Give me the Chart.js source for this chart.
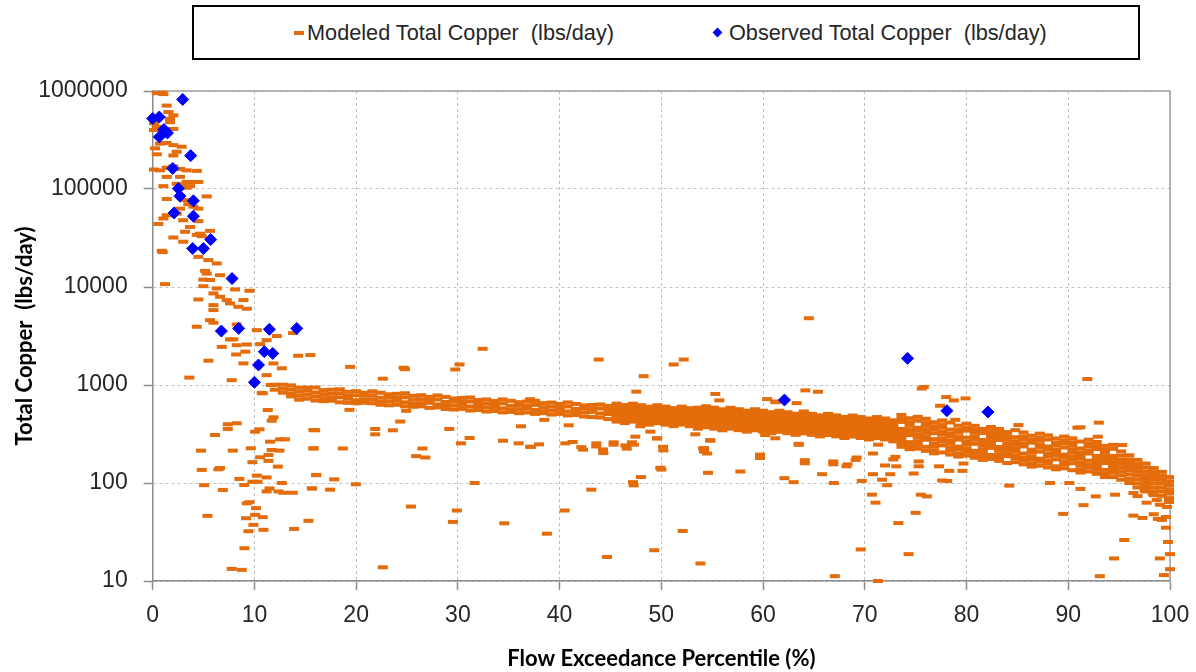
<!DOCTYPE html>
<html>
<head>
<meta charset="utf-8">
<script src="https://cdn.jsdelivr.net/npm/chart.js@4.4.1/dist/chart.umd.min.js"></script>
<style>
  html, body { margin: 0; padding: 0; background: #fff; }
  #wrap { position: relative; width: 1196px; height: 672px; }
  #chart { position: absolute; left: 0; top: 0; }
  #legend {
    position: absolute; left: 192px; top: 5px; width: 944px; height: 51px;
    border: 2px solid #000; background: #fff;
    font-family: "Liberation Sans", Arial, sans-serif; font-size: 21.7px; color: #262626;
  }
  .item { position: absolute; top: 0; line-height: 51px; white-space: nowrap; }
  .mark { position: absolute; }
  .dash { width: 10px; height: 4px; background: #E46C0A; top: 24px; }
  .diamond { width: 7px; height: 7px; background: #0000FF; transform: rotate(45deg); top: 22px; }
</style>
</head>
<body>
<div id="wrap">
  <canvas id="chart" width="1196" height="672"></canvas>
  <div id="legend">
    <span class="mark dash" style="left:100px"></span>
    <span class="item" style="left:113px">Modeled Total Copper&nbsp; (lbs/day)</span>
    <span class="mark diamond" style="left:520px"></span>
    <span class="item" style="left:535px">Observed Total Copper&nbsp; (lbs/day)</span>
  </div>
</div>
<script>
// axis ticks
const xTickValues = [0, 10, 20, 30, 40, 50, 60, 70, 80, 90, 100];
const yTickValues = [10, 100, 1000, 10000, 100000, 1000000];

// observed loads
const observedX = [0.0, 0.65, 0.65, 1.1, 1.45, 2.95, 3.73, 1.97, 2.52, 2.68, 4.0, 2.1, 4.0, 3.93, 4.98, 5.7, 7.8, 6.75, 8.45, 11.47, 14.16, 10.97, 11.8, 10.4, 10.0, 62.1, 74.2, 78.07, 82.1];
const observedY = [524000, 543000, 340000, 405000, 373000, 820000, 219000, 162000, 101000, 84500, 75700, 57000, 52800, 24700, 24700, 30500, 12200, 3550, 3780, 3700, 3780, 2190, 2100, 1600, 1065, 703, 1870, 547, 531];

// modeled loads, high flows (0-16 %)
const modeledHighFlow = [
  [0.4,950000],[1.05,930000],[0.9,960000],[1.38,710000],[1.54,610000],[1.7,520000],[2.03,565000],[0.13,470000],
  [0.13,400000],[0.4,430000],[1.7,480000],[2.03,410000],[0.72,290000],[1.38,295000],[2.03,280000],[2.85,270000],
  [0.23,260000],[0.4,226000],[2.03,220000],[2.36,240000],[0.13,158000],[0.72,155000],[1.38,165000],[2.03,170000],
  [2.69,160000],[3.34,155000],[4.33,153000],[1.38,133000],[2.69,133000],[3.34,118000],[3.84,118000],[1.05,107000],
  [2.36,113000],[2.85,109000],[3.34,103000],[4.49,118000],[3.67,107000],[5.31,84000],[3.18,77000],[1.38,79000],
  [3.5,70000],[2.69,63000],[4.0,66000],[4.49,63000],[1.38,54000],[2.36,56000],[1.05,50000],[3.0,48000],
  [4.49,47000],[0.56,44000],[3.67,41000],[3.18,36600],[4.66,35000],[5.64,37400],[2.03,32000],[3.0,29000],
  [4.33,34000],[4.82,33000],[0.89,23400],[0.98,22700],[4.49,20300],[5.47,18800],[6.3,17400],[5.15,14600],
  [5.31,13700],[6.62,13200],[4.98,11900],[5.64,11800],[1.21,10700],[4.98,10200],[6.3,9670],[8.1,9440],
  [9.51,9150],[5.97,8600],[6.62,7950],[7.28,7350],[4.49,7460],[7.6,6800],[8.92,7350],[5.97,6530],
  [8.43,6280],[9.25,6000],[5.97,5810],[5.64,4590],[5.97,4320],[8.26,4150],[4.33,3930],[7.93,2920],
  [7.6,2920],[6.79,2450],[8.26,2550],[9.25,2590],[10.23,3630],[11.2,2870],[12.2,3160],[10.56,2610],
  [8.2,2050],[9.11,2190],[5.48,1770],[8.92,1660],[11.87,1660],[12.69,1480],[11.2,1260],[3.6,1190],
  [7.77,1120],[10.72,830],[15.5,2020],[14.3,1990],[13.8,3390]
];

// modeled loads, main band: [x, y, y, ...]
const modeledBandRows = [
  [11.6,1000],[12.0,1006,895],[12.8,1007,916,834],[13.6,991,901,820,765],[14.4,939,855,778,708],
  [15.2,940,876,797,725],[16.0,943,838,763,694],[16.8,887,807,734,684],[17.6,895,814,741,691],
  [18.4,904,823,749,666],[19.2,853,776,723,658],[20.0,864,786,699,651],[20.8,834,777,707,659],
  [21.6,863,785,715,651],[22.4,834,741,675,628],[23.2,804,749,682,621],[24.0,813,740,690,628],
  [24.8,823,749,666,606],[25.6,776,707,643,599],[26.4,786,715,651,606],[27.2,757,705,658,584],
  [28.0,783,712,633,590],[28.8,756,672,611,569],[29.6,729,679,618,562],[30.4,738,672,626,570],
  [31.2,746,679,604,549],[32.0,703,640,583,556],[32.8,712,648,590,536],[33.6,687,640,597,543],
  [34.4,713,649,577,525],[35.2,690,613,558,532],[36.0,668,623,567,516],[36.8,679,617,575,524],
  [37.6,689,627,557,507],[38.4,653,594,541,516],[39.2,662,603,549,499],[40.0,641,597,557,507],
  [40.8,664,604,537,489],[41.6,641,569,518,494],[42.4,619,576,525,477],[43.2,626,569,531,471],
  [44.0,633,576,512,466],[44.8,611,555,506,449],
  [45.6,646,603,561,523,487,454,423],[46.4,624,582,542,505,470,438,409],[47.2,645,601,560,522,487,453,423],
  [48.0,622,579,540,503,469,437,407],[48.8,601,560,522,487,453,422,394],[49.6,622,580,541,504,469,437,408],
  [50.4,602,561,523,487,454,423,394],[51.2,581,541,504,470,438,408,380],[52.0,602,561,523,487,454,423,395],
  [52.8,581,541,504,470,438,408,380],
  [53.6,587,547,510,475,443,412,385,358],[54.4,607,566,528,491,458,427,398,371],[55.2,587,547,510,475,443,412,384,358],
  [56.0,565,527,491,458,426,397,371,345],[56.8,586,546,509,474,442,412,384,358],[57.6,566,527,492,458,427,398,371,346],
  [58.4,546,509,475,442,412,384,358,334],[59.2,566,528,492,458,427,398,371,345],[60.0,546,509,475,442,412,384,358,334],
  [60.8,528,492,458,427,398,371,346,322],[61.6,546,509,475,442,412,384,358,333],[62.4,527,491,458,427,398,370,345,322],
  [63.2,509,474,442,412,384,357,333,310],[64.0,526,491,457,426,397,370,345,321],[64.8,508,473,441,411,383,357,332,310],
  [65.6,490,456,425,396,369,344,321,299],[66.4,507,472,440,410,382,356,332,309],[67.2,490,456,425,396,369,344,321,299],
  [68.0,472,440,410,382,356,332,309,288],[68.8,488,455,424,395,368,343,319,298],[69.6,471,439,410,381,356,331,309,288],
  [70.4,455,424,396,369,343,320,298,278],[71.2,471,439,409,381,355,331,308,287],[72.0,455,424,395,368,343,319,298,278],
  [72.8,436,407,379,353,329,307,286,266],
  [73.6,495,451,420,356,324,302,275,256,234],[74.4,458,417,389,354,330,308,261,238,221],[75.2,474,432,366,341,311,289,264,245,224],
  [76.0,452,411,383,349,325,296,276,234,213],[76.8,417,380,354,322,280,254,237,216,201],[77.6,435,396,369,336,313,285,266,242,205],
  [78.4,414,351,320,298,271,252,230,214,195],[79.2,385,350,327,297,277,235,219,199,186],[80.0,403,366,342,290,264,246,224,208,190],
  [80.8,383,349,325,296,276,251,213,198,181],[81.6,356,324,275,256,239,217,202,184,172],[82.4,373,339,316,288,268,244,228,193,176],
  [83.2,356,324,302,275,233,217,197,184,168],[84.0,331,301,281,255,238,222,202,188,160],[84.8,346,293,267,249,227,211,192,179,163],
  [85.6,328,298,278,253,236,200,182,170,155],[86.4,304,277,258,219,204,186,173,158,147],[87.2,319,290,271,247,230,209,177,165,150],
  [88.0,306,278,236,220,200,187,170,158,144],[88.8,285,259,242,220,205,191,174,148,138],[89.6,298,271,253,230,195,182,166,154,141],
  [90.4,286,260,242,221,205,187,174,159,135],[91.2,265,225,205,191,178,162,151,138,128],[92.0,277,252,235,214,200,169,154,144,131],
  [92.8,262,239,222,189,172,160,146,136,124],[93.6,239,218,203,185,172,160,136,124,115],[94.4,245,223,189,176,160,149,136,127,115],
  [95.2,210,190,172,158,145,132,120,108],[96.0,192,174,160,146,134,122,110,100],[96.8,172,156,143,131,120,109,99,90],
  [97.6,158,144,131,120,110,100,91,82],[98.4,142,129,118,108,99,90,82,75],[99.2,130,118,108,99,90,82,74],
  [99.9,115,104,95,86,78,70,64]
];

// modeled loads, scattered away from the band
const modeledScatter = [
  [10.82,822],[11.31,556],[11.87,468],[11.7,432],[7.38,398],[8.26,407],[6.13,309],[7.38,356],[10.07,334],[10.5,353],
  [4.75,214],[7.87,214],[9.64,226],[11.54,264],[12.52,279],[13.0,279],[11.7,217],[12.46,214],[10.56,183],[11.38,193],
  [9.8,163],[11.38,168],[12.3,147],[4.82,136],[6.46,138],[6.62,142],[10.23,119],[11.2,114],[8.52,110],[9.8,103],
  [10.3,103],[9.0,95.5],[5.05,95],[12.69,100],[6.89,85],[11.2,82],[11.48,88],[12.36,82],[12.85,79.5],[13.77,79.5],
  [9.51,63.7],[9.25,62],[10.16,55.4],[5.38,46.2],[9.18,43.7],[10.07,47.3],[10.82,44.8],[13.9,34],[15.31,41.1],[9.9,37.4],
  [9.41,32.2],[10.89,33.3],[9.02,21.6],[7.77,13.3],[8.75,13.0],[15.8,347],[15.8,226],[16.07,121],[15.64,88],
  [19.41,1530],[22.62,1160],[24.66,1500],[24.8,1450],[30.16,1620],[29.74,1440],[32.43,2340],[43.84,1820],[51.21,1620],[52.2,1820],
  [48.26,1230],[47.54,855],[55.3,810],[55.7,697],[19.34,558],[24.92,545],[24.33,424],[15.97,345],[21.87,356],[21.87,314],
  [23.61,345],[29.15,356],[36.2,379],[38.5,441],[40.89,388],[47.93,379],[47.44,297],[48.92,334],[49.57,285],[53.34,314],
  [54.82,270],[15.8,225],[18.69,225],[26.52,225],[30.3,254],[31.15,288],[25.9,188],[26.8,182],[34.43,270],[35.97,254],
  [37.18,234],[37.97,248],[40.56,254],[41.28,262],[42.13,232],[43.61,254],[44.26,220],[45.31,260],[46.46,242],[47.11,260],
  [50.16,234],[54.1,225],[16.07,120],[17.84,109],[15.67,88],[17.44,85.5],[19.97,97],[31.64,100],[47.21,102],[47.28,94.6],
  [48.0,115],[43.11,85.5],[49.9,143],[54.59,127],[57.77,131],[25.38,57.5],[29.9,52.4],[29.51,40.1],[34.56,38.8],[40.49,52.4],
  [38.75,30.4],[52.1,32.4],[49.3,20.6],[44.66,17.6],[53.84,15.1],[22.62,13.8],[37.1,716],[37.1,234],
  [49.6,286],[60.2,309],[61.2,286],[63.5,251],[42.3,219],[43.6,236],[44.3,202],[45.3,246],[46.6,224],[47.3,246],
  [50.2,215],[54.2,209],[59.7,180],[64.1,159],[66.9,155],[68.2,148],[69.1,172],[70.8,200],[71.3,246],[72.8,174],
  [73.1,148],[50.0,137],[61.35,679],[54.5,200],
  [64.5,4800],[75.8,955],[75.6,920],[78.0,753],[78.75,696],[79.9,730],[60.4,718],[61.2,668],[63.3,653],[64.16,881],
  [65.4,853],[64.0,537],[77.4,614],[78.9,441],[59.7,195],[54.8,274],[54.2,227],[62.1,112],[63.0,102],[63.5,245],
  [64.1,171],[65.8,123],[66.95,100],[66.9,166],[68.3,155],[69.2,182],[69.7,105],[70.8,123],[71.7,108],[72.2,95],
  [70.7,76],[71.05,63],[73.3,39],[75.0,49.6],[75.5,76],[76.1,73],[69.6,21],[74.3,18.8],[67.05,11.2],[71.3,10],
  [71.98,151],[72.5,123],[73.0,185],[74.8,125],[75.3,148],[75.3,166],[77.6,106],[78.1,105],[77.3,148],[78.3,133],
  [79.6,133],[79.7,158],[84.2,94],[88.2,100],[90.1,100],[91.2,87],[90.9,367],[93.0,413],[92.9,297],[95.3,244],
  [85.1,390],[91.87,1150],[91.2,370],
  [99.6,102],[99.9,85],[99.7,57],[99.6,45],[99.6,35],[99.8,25],[100,18.8],[100,13.2],[99.4,11.5],[99.0,17],
  [94.5,17],[93.1,11.2],[95.5,26.2],[96.4,46.5],[97.3,44],[98.4,48],[98.8,43],[99.2,42],[89.5,48.4],[91.5,59.4],
  [92.7,73],[94.6,76],[96.8,73.5],[97.7,63],[98.7,67],[99.0,60],[97.5,84],[98.3,78],[96.4,79]
];

const observedPoints = observedX.map((x, i) => ({ x: x, y: observedY[i] }));
const modeledPoints = [];
modeledHighFlow.forEach(p => modeledPoints.push({ x: p[0], y: p[1] }));
modeledBandRows.forEach(row => {
    row.slice(1).forEach(y => modeledPoints.push({ x: row[0], y: y }));
});
modeledScatter.forEach(p => modeledPoints.push({ x: p[0], y: p[1] }));

const axisGray = "#8c8c8c";
const tickFont = { family: "Liberation Sans", size: 23 };
const titleFont = { family: "Lato", size: 22, weight: "bold" };

// solid frame on top and right side of the plot area
const plotFrame = {
    id: "plotFrame",
    beforeDatasetsDraw(chart) {
        const { ctx, chartArea } = chart;
        ctx.save();
        ctx.strokeStyle = "#a0a0a0";
        ctx.lineWidth = 1.5;
        ctx.beginPath();
        ctx.moveTo(chartArea.left, chartArea.top);
        ctx.lineTo(chartArea.right, chartArea.top);
        ctx.lineTo(chartArea.right, chartArea.bottom);
        ctx.stroke();
        ctx.restore();
    }
};

new Chart(document.getElementById("chart"), {
    type: "scatter",
    data: {
        datasets: [
            {
                label: "Observed Total Copper  (lbs/day)",
                data: observedPoints,
                pointStyle: "rectRot",
                radius: 6,
                backgroundColor: "#0000FF",
                borderColor: "#0000FF",
                borderWidth: 1,
                order: 0,
                clip: false
            },
            {
                label: "Modeled Total Copper  (lbs/day)",
                data: modeledPoints,
                pointStyle: "line",
                radius: 5,
                borderColor: "#E46C0A",
                backgroundColor: "#E46C0A",
                borderWidth: 4,
                order: 1,
                clip: false
            }
        ]
    },
    options: {
        responsive: false,
        animation: false,
        devicePixelRatio: 1,
        layout: { padding: { top: 91, right: 26, left: 0, bottom: 0 } },
        plugins: { legend: { display: false }, tooltip: { enabled: false } },
        scales: {
            x: {
                type: "linear",
                min: 0,
                max: 100,
                afterFit: s => { s.height = 91; s.paddingLeft = 0; s.paddingRight = 0; },
                afterBuildTicks: s => { s.ticks = xTickValues.map(v => ({ value: v })); },
                ticks: { font: tickFont, color: "#262626", padding: 12, maxRotation: 0 },
                grid: { color: "#c0c0c0", lineWidth: 1, tickLength: 9, tickColor: axisGray, tickWidth: 1.5 },
                border: { color: axisGray, width: 1.5, dash: [3, 3] },
                title: { display: true, text: "Flow Exceedance Percentile (%)", font: titleFont, color: "#000", padding: { top: 3, bottom: 0 } }
            },
            y: {
                type: "logarithmic",
                min: 10,
                max: 1000000,
                afterFit: s => { s.width = 152.7; s.paddingTop = 0; s.paddingBottom = 0; },
                afterBuildTicks: s => { s.ticks = yTickValues.map(v => ({ value: v })); },
                ticks: { font: tickFont, color: "#262626", padding: 16, callback: v => String(v) },
                grid: { color: "#c0c0c0", lineWidth: 1, tickLength: 9, tickColor: axisGray, tickWidth: 1.5 },
                border: { color: axisGray, width: 1.5, dash: [3, 3] },
                title: { display: true, text: "Total Copper  (lbs/day)", font: titleFont, color: "#000", padding: { top: 12, bottom: 0 } }
            }
        }
    },
    plugins: [plotFrame]
});
</script>
</body>
</html>
